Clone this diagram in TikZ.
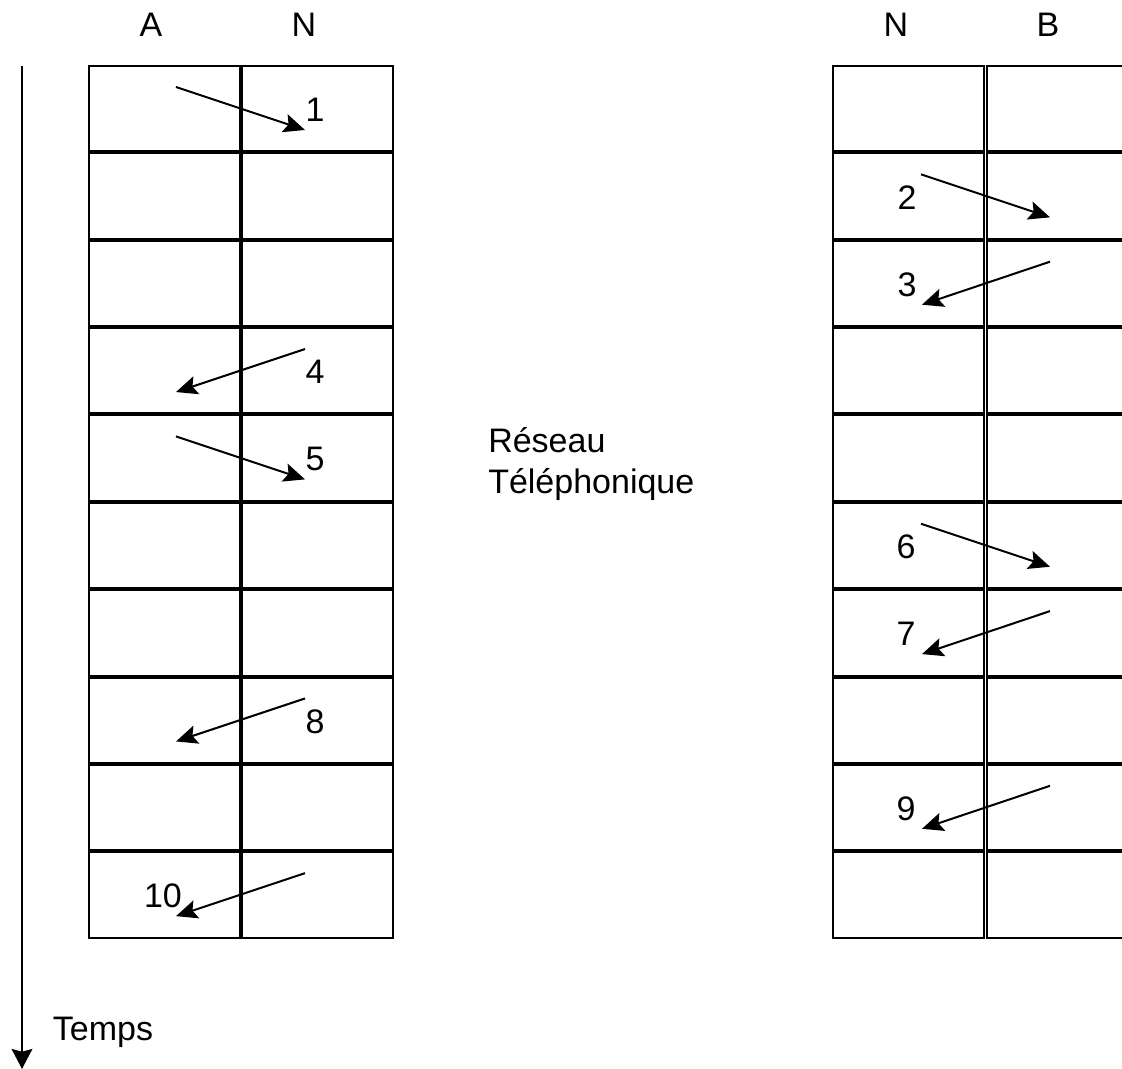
\documentclass[tikz,border=0pt]{standalone}
\usepackage{fontspec}
\setmainfont{Liberation Sans}
\usetikzlibrary{arrows.meta}

\begin{document}
\begin{tikzpicture}[x=0.75pt, y=-0.75pt,
  cell/.style={draw, line width=1.6pt},
  msg/.style={line width=1.5pt, -{Stealth[length=16pt, width=14pt, inset=3pt]}},
  lbl/.style={font=\fontsize{25.5}{31}\selectfont, inner sep=0pt}]

\clip (0,0) rectangle (1122,1069);

% time axis
\coordinate (t0) at (22,66);
\coordinate (t1) at (22,1069);
\draw[line width=1.5pt, -{Stealth[length=15pt, width=15.5pt, inset=2pt]}] (t0) -- (t1);
\node[lbl] (temps) at (103,1032) {Temps};

% column headers
\node[lbl] (hA)  at (151,25)  {A};
\node[lbl] (hN1) at (304,25)  {N};
\node[lbl] (hN2) at (896,25)  {N};
\node[lbl] (hB)  at (1048,25) {B};

% two columns of ten cells on each side
\foreach \i in {0,...,9} {
  \pgfmathsetmacro{\rowy}{66+87.35*\i}
  \foreach \x in {89,242,833,987}
    \draw[cell] (\x,\rowy) rectangle ++(151,85.5);
}

\node[lbl, align=left, anchor=west] (net) at (488,464) {Réseau\\Téléphonique};

% numbered messages: number / from x / to x / label x
\foreach \n/\xa/\xb/\xl in {1/176/305/315, 2/921/1050/907, 3/1050/922/907,
    4/305/176/315, 5/176/305/315, 6/921/1050/906, 7/1050/922/906,
    8/305/176/315, 9/1050/922/906, 10/305/176/163} {
  \pgfmathsetmacro{\rowy}{66+87.35*(\n-1)}
  \coordinate (m\n-s) at (\xa,\rowy+21);
  \coordinate (m\n-e) at (\xb,\rowy+64);
  \draw[msg] (m\n-s) -- (m\n-e);
  \node[lbl] (n\n) at (\xl,\rowy+44) {\n};
}

\end{tikzpicture}
\end{document}
